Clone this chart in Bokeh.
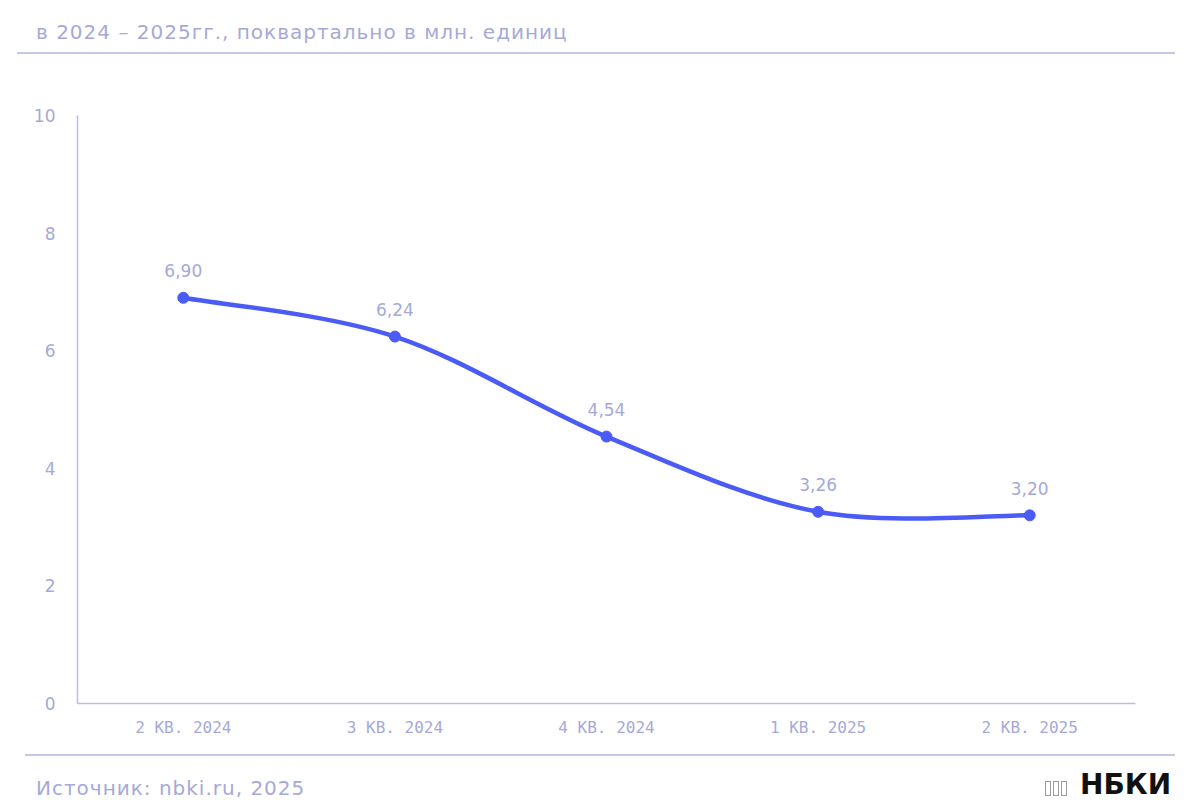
from bokeh.plotting import figure
from bokeh.models import Range1d, FixedTicker, Div
from bokeh.layouts import column
from bokeh.embed import file_html
from bokeh.resources import INLINE
from bokeh.core.properties import value

# ---- data ----
quarters = ["2 КВ. 2024", "3 КВ. 2024", "4 КВ. 2024", "1 КВ. 2025", "2 КВ. 2025"]
values = [6.90, 6.24, 4.54, 3.26, 3.20]
value_labels = ["6,90", "6,24", "4,54", "3,26", "3,20"]
y_ticks = [0, 2, 4, 6, 8, 10]
subtitle = "в 2024 – 2025гг., поквартально в млн. единиц"
source_text = "Источник: nbki.ru, 2025"
logo_text = "НБКИ"

# ---- style ----
W = 1200
HDR_H, FTR_H = 62, 55
FL, FR = 77, 1135          # frame left/right (px)
TOP_B, FRAME_H, BOT_B = 53, 588, 42
LAV = "#A5A9D8"
AXIS = "#B9BCE8"
RULE = "#C5C7EA"
BLUE = "#4B5CF6"
SANS = "DejaVu Sans"

# ---- header (HTML) ----
hdr_html = (
    f'<div style="position:relative;width:{W}px;height:{HDR_H}px;overflow:hidden;">'
    f'<div style="position:absolute;left:36px;top:20px;font-family:\'{SANS}\';font-size:20px;'
    f'letter-spacing:1px;line-height:24px;color:{LAV};white-space:nowrap;">{subtitle}</div>'
    f'<div style="position:absolute;left:17px;top:52px;width:1158px;height:2px;background:{RULE};"></div>'
    '</div>'
)
hdr = Div(text=hdr_html, width=W, height=HDR_H, margin=0)

# ---- main chart ----
p = figure(width=W, height=TOP_B + FRAME_H + BOT_B, x_range=Range1d(0, 5), y_range=Range1d(0, 10),
           toolbar_location=None, output_backend="svg",
           min_border_left=FL, min_border_right=W - FR, min_border_top=TOP_B, min_border_bottom=BOT_B,
           outline_line_color=None, margin=0)
p.grid.visible = False

xs = [i + 0.5 for i in range(len(values))]

for ax in (p.xaxis[0], p.yaxis[0]):
    ax.axis_line_color = AXIS
    ax.axis_line_width = 1.5
    ax.major_tick_line_color = None
    ax.minor_tick_line_color = None
    ax.major_label_text_color = LAV

p.xaxis.ticker = FixedTicker(ticks=xs)
p.xaxis.major_label_overrides = {x: q for x, q in zip(xs, quarters)}
p.xaxis.major_label_text_font = "DejaVu Sans Mono"
p.xaxis.major_label_text_font_size = "16px"
p.xaxis.major_label_standoff = 8

p.yaxis.ticker = FixedTicker(ticks=y_ticks)
p.yaxis.major_label_text_font = SANS
p.yaxis.major_label_text_font_size = "17px"
p.yaxis.major_label_standoff = 16

# smooth curve (Catmull-Rom -> cubic Bezier) through the data points
n = len(values)


def pt(i):
    i = max(0, min(n - 1, i))
    return xs[i], values[i]


bx0, by0, bx1, by1, c0x, c0y, c1x, c1y = ([] for _ in range(8))
for i in range(n - 1):
    ax_, ay_ = pt(i - 1)
    bx_, by_ = pt(i)
    cx_, cy_ = pt(i + 1)
    dx_, dy_ = pt(i + 2)
    bx0.append(bx_); by0.append(by_)
    bx1.append(cx_); by1.append(cy_)
    c0x.append(bx_ + (cx_ - ax_) / 6); c0y.append(by_ + (cy_ - ay_) / 6)
    c1x.append(cx_ - (dx_ - bx_) / 6); c1y.append(cy_ - (dy_ - by_) / 6)

p.bezier(x0=bx0, y0=by0, x1=bx1, y1=by1, cx0=c0x, cy0=c0y, cx1=c1x, cy1=c1y,
         line_color=BLUE, line_width=4.5, line_cap="round")
p.scatter(xs, values, size=11, color=BLUE)
p.text(xs, values, text=value_labels, text_font=value(SANS), text_font_size="17px",
       text_color=LAV, text_align="center", text_baseline="alphabetic", y_offset=-27)

# ---- footer (HTML) ----
ftr_html = (
    f'<div style="position:relative;width:{W}px;height:{FTR_H}px;overflow:hidden;">'
    f'<div style="position:absolute;left:25px;top:9px;width:1150px;height:2px;background:{RULE};"></div>'
    f'<div style="position:absolute;left:36px;top:32px;font-family:\'{SANS}\';font-size:20px;'
    f'letter-spacing:1px;line-height:22px;color:{LAV};white-space:nowrap;">{source_text}</div>'
    '<div style="position:absolute;left:1045px;top:36px;width:6px;height:15px;border:1.2px solid #9A9A9A;"></div>'
    '<div style="position:absolute;left:1053px;top:36px;width:6px;height:15px;border:1.2px solid #9A9A9A;"></div>'
    '<div style="position:absolute;left:1061px;top:36px;width:6px;height:15px;border:1.2px solid #9A9A9A;"></div>'
    f'<div style="position:absolute;left:1080px;top:26px;font-family:\'{SANS}\';font-size:28px;'
    f'font-weight:bold;line-height:28px;color:#111111;white-space:nowrap;">{logo_text}</div>'
    '</div>'
)
ftr = Div(text=ftr_html, width=W, height=FTR_H, margin=0)

layout = column(hdr, p, ftr, spacing=0)
open("out.html", "w").write(file_html(layout, INLINE))
